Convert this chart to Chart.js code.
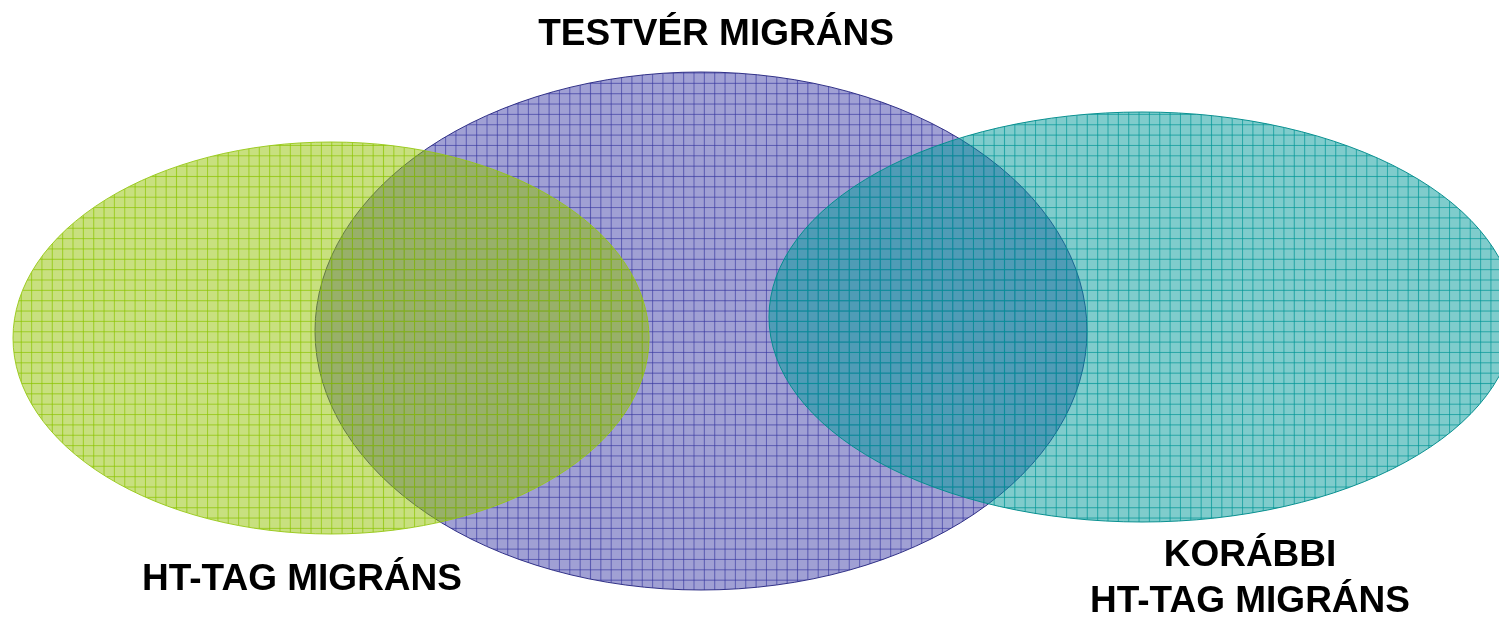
<!DOCTYPE html>
<html>
<head>
<meta charset="utf-8">
<script src="https://cdn.jsdelivr.net/npm/chart.js@4/dist/chart.umd.min.js"></script>
<style>
  html, body { margin:0; padding:0; background:#fff; }
  #wrap { width:1499px; height:617px; position:relative; }
</style>
</head>
<body>
<div id="wrap"><canvas id="venn"></canvas></div>
<script>
// sets of the diagram (ellipse centre + half axes, in picture units)
const setNames = ['HT-TAG MIGRÁNS', 'TESTVÉR MIGRÁNS', 'KORÁBBI HT-TAG MIGRÁNS'];
const centerX  = [331, 701, 1142];
const centerY  = [338, 331, 317];
const radiusX  = [318, 386, 373];
const radiusY  = [196, 259, 205];
const drawOrder = [1, 0, 2];

// label lines for each set
const labelLines = [['HT-TAG MIGRÁNS'], ['TESTVÉR MIGRÁNS'], ['KORÁBBI', 'HT-TAG MIGRÁNS']];

const styles = [
  { base:'rgba(145,193,0,0.5)', line:'rgba(140,195,0,0.7)', edge:'rgba(150,200,20,0.9)', text:[302, [590]] },
  { base:'rgba(65,65,169,0.5)', line:'rgba(55,55,160,0.65)', edge:'rgba(40,40,130,0.95)', text:[716, [45]] },
  { base:'rgba(0,153,153,0.5)', line:'rgba(0,150,150,0.7)', edge:'rgba(0,140,140,0.95)', text:[1250, [566, 612]] }
];

function el(sel){ return document.querySelector(sel); }

function makePattern(ctx, base, line){
  const c = document.createElement('canvas');
  c.width = c.height = 10;
  const g = c.getContext('2d');
  g.fillStyle = base; g.fillRect(0,0,10,10);
  g.fillStyle = line; g.fillRect(0,0,10,1); g.fillRect(0,0,1,10);
  const p = ctx.createPattern(c, 'repeat');
  try { p.setTransform(new DOMMatrix().scale(1.035)); } catch(e) {}
  return p;
}

const vennPlugin = {
  id: 'venn',
  beforeDatasetsDraw(chart){
    const {ctx, scales:{x, y}} = chart;
    drawOrder.forEach(i=>{
      const pt = chart.data.datasets[i].data[0];
      const cx = x.getPixelForValue(pt.x), cy = y.getPixelForValue(pt.y);
      const rx = Math.abs(x.getPixelForValue(pt.x + pt.rx) - cx);
      const ry = Math.abs(y.getPixelForValue(pt.y + pt.ry) - cy);
      const s = styles[i];
      ctx.save();
      ctx.beginPath();
      ctx.ellipse(cx, cy, rx, ry, 0, 0, Math.PI*2);
      ctx.fillStyle = makePattern(ctx, s.base, s.line);
      ctx.fill();
      ctx.lineWidth = 1;
      ctx.strokeStyle = s.edge;
      ctx.stroke();
      ctx.restore();
    });
  },
  afterDatasetsDraw(chart){
    const {ctx} = chart;
    ctx.save();
    ctx.fillStyle = '#000';
    ctx.font = 'bold 37px "Liberation Sans", Arial, sans-serif';
    ctx.textAlign = 'center';
    ctx.textBaseline = 'alphabetic';
    labelLines.forEach((lines, i)=>{
      const [tx, tys] = styles[i].text;
      lines.forEach((t, k)=> ctx.fillText(t, tx, tys[k]));
    });
    ctx.restore();
  }
};

new Chart(el('#venn').getContext('2d'), {
  type: 'scatter',
  data: {
    datasets: setNames.map((name, i)=>({
      label: name,
      data: [{ x: centerX[i], y: centerY[i], rx: radiusX[i], ry: radiusY[i] }],
      pointRadius: 0, pointHoverRadius: 0
    }))
  },
  options: {
    responsive: true,
    maintainAspectRatio: false,
    animation: false,
    layout: { padding: 0 },
    plugins: { legend: { display: false }, tooltip: { enabled: false } },
    scales: {
      x: { type: 'linear', min: 0, max: 1499, display: false },
      y: { type: 'linear', min: 0, max: 617, reverse: true, display: false }
    }
  },
  plugins: [vennPlugin]
});
</script>
</body>
</html>
